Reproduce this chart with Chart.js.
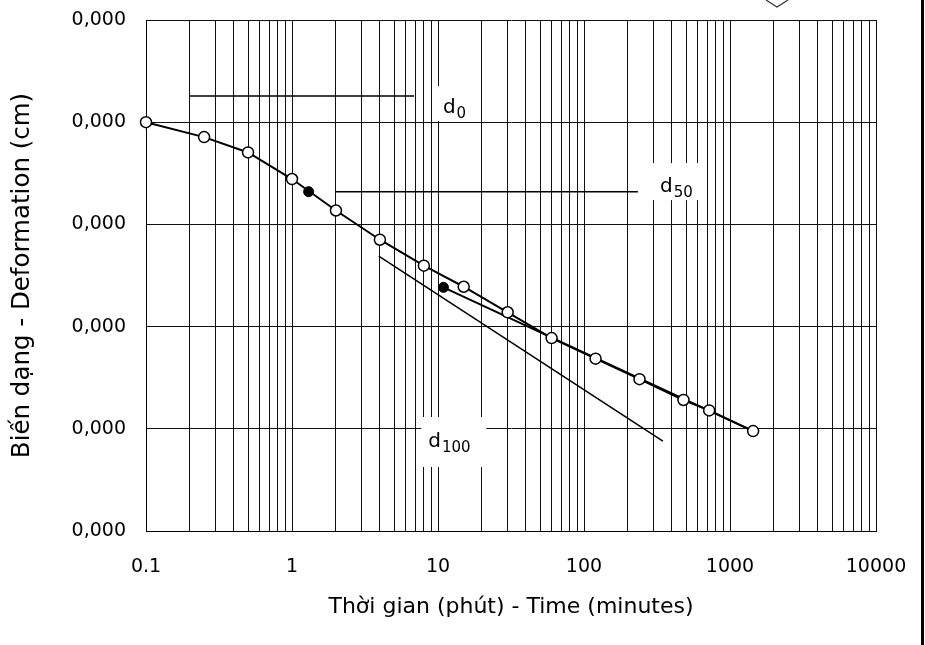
<!DOCTYPE html>
<html>
<head>
<meta charset="utf-8">
<script src="https://cdn.jsdelivr.net/npm/chart.js@4.4.1/dist/chart.umd.min.js"></script>
<style>
  html, body { margin: 0; padding: 0; background: #fff; }
  #wrap { width: 925px; height: 645px; }
</style>
</head>
<body>
<div id="wrap"><canvas id="chart" width="925" height="645"></canvas></div>
<script>
// readings: time (minutes) and deformation (cm)
const times = [0.1, 0.25, 0.5, 1, 2, 4, 8, 15, 30, 60, 120, 240, 480, 720, 1440];
const deformation = [0.0000500, 0.0000573, 0.0000648, 0.0000778, 0.0000932, 0.0001075, 0.0001202,
  0.0001305, 0.0001430, 0.0001556, 0.0001657, 0.0001757, 0.0001859, 0.0001910, 0.0002011];

// t50 / t100 points (filled)
const markTimes = [1.3, 10.9];
const markDeformation = [0.0000840, 0.0001308];

// construction lines, [start, end]
const d0Times = [0.2, 6.85];
const d0Values = [0.0000372, 0.0000372];
const d50Times = [2, 234];
const d50Values = [0.0000840, 0.0000840];
const tangentTimes = [3.93, 347];
const tangentValues = [0.0001155, 0.0002060];
const secondaryTimes = [10.9, 1440];
const secondaryValues = [0.0001308, 0.0002011];

// axis ticks
const xTicks = [0.1, 1, 10, 100, 1000, 10000];
const yTicks = [0, 0.00005, 0.0001, 0.00015, 0.0002, 0.00025];

// d labels (anchor in data units)
const labels = [
  { main: 'd', sub: '0', t: 10.8, v: 0.0000455 },
  { main: 'd', sub: '50', t: 332, v: 0.0000842 },
  { main: 'd', sub: '100', t: 8.58, v: 0.0002089 }
];
const labelBoxes = [[-8, -27, 34, 8], [-20, -29, 43, 8], [-7, -30, 58, 20]];

const FONT = '"DejaVu Sans", Verdana, sans-serif';
const GRID = '#111';

const pts = (xs, ys) => xs.map((x, i) => ({ x: x, y: ys[i] }));

function segment(xs, ys, width) {
  return {
    data: pts(xs, ys),
    borderColor: '#000',
    borderWidth: width,
    pointRadius: 0,
    fill: false
  };
}

const annotate = {
  id: 'annotate',
  beforeDatasetsDraw(chart) {
    const { ctx, scales: { x, y } } = chart;
    ctx.save();
    labels.forEach((l, i) => {
      const px = x.getPixelForValue(l.t);
      const py = y.getPixelForValue(l.v);
      const b = labelBoxes[i];
      ctx.fillStyle = '#fff';
      ctx.fillRect(px + b[0], py + b[1], b[2] - b[0], b[3] - b[1]);
      ctx.fillStyle = '#000';
      ctx.textBaseline = 'alphabetic';
      ctx.textAlign = 'left';
      ctx.font = '20px ' + FONT;
      ctx.fillText(l.main, px, py);
      const w = ctx.measureText(l.main).width;
      ctx.font = '15px ' + FONT;
      ctx.fillText(l.sub, px + w + 1, py + 5);
    });
    ctx.restore();
  },
  afterDraw(chart) {
    // edge of the scanned sheet
    const ctx = chart.ctx;
    ctx.save();
    ctx.fillStyle = '#000';
    ctx.fillRect(921, 0, 3, chart.height);
    ctx.strokeStyle = '#333';
    ctx.lineWidth = 1.2;
    ctx.beginPath();
    ctx.moveTo(766, 0);
    ctx.lineTo(777, 7);
    ctx.lineTo(788, 0);
    ctx.stroke();
    ctx.restore();
  }
};

new Chart(document.getElementById('chart'), {
  type: 'line',
  data: {
    datasets: [
      {
        data: pts(markTimes, markDeformation),
        showLine: false,
        pointRadius: 5,
        pointBackgroundColor: '#000',
        pointBorderColor: '#000',
        pointBorderWidth: 1
      },
      {
        data: pts(times, deformation),
        borderColor: '#000',
        borderWidth: 2,
        pointRadius: 5.5,
        pointBackgroundColor: '#fff',
        pointBorderColor: '#000',
        pointBorderWidth: 1.5,
        tension: 0,
        clip: false
      },
      segment(secondaryTimes, secondaryValues, 2),
      segment(tangentTimes, tangentValues, 1.5),
      segment(d0Times, d0Values, 1.5),
      segment(d50Times, d50Values, 1.5)
    ]
  },
  plugins: [annotate],
  options: {
    responsive: false,
    animation: false,
    layout: { padding: { top: 20, right: 49, bottom: 0, left: 0 } },
    plugins: { legend: { display: false }, tooltip: { enabled: false } },
    scales: {
      x: {
        type: 'logarithmic',
        min: 0.1,
        max: 10000,
        afterBuildTicks: s => {
          const t = [];
          for (let e = -1; e <= 3; e++) {
            for (let k = 1; k <= 9; k++) t.push({ value: Number((k * Math.pow(10, e)).toPrecision(6)) });
          }
          t.push({ value: 10000 });
          s.ticks = t;
        },
        afterFit: s => {
          s.height = 114;
          s.paddingLeft = 0;
          s.paddingRight = 0;
        },
        ticks: {
          autoSkip: false,
          maxRotation: 0,
          padding: 25,
          color: '#000',
          font: { family: FONT, size: 19 },
          callback: v => xTicks.includes(v) ? String(v) : ''
        },
        grid: { color: GRID, lineWidth: 1, drawTicks: false },
        border: { color: '#000', width: 1 },
        title: {
          display: true,
          text: 'Thời gian (phút) - Time (minutes)',
          color: '#000',
          font: { family: FONT, size: 22 },
          padding: { top: 0, bottom: 25 }
        }
      },
      y: {
        reverse: true,
        min: 0,
        max: 0.00025,
        afterBuildTicks: s => { s.ticks = yTicks.map(v => ({ value: v })); },
        afterFit: s => {
          s.width = 146;
          s.paddingTop = 0;
          s.paddingBottom = 0;
        },
        ticks: {
          padding: 20,
          color: '#000',
          font: { family: FONT, size: 19 },
          callback: v => v.toFixed(3).replace('.', ',')
        },
        grid: { color: GRID, lineWidth: 1, drawTicks: false },
        border: { color: '#000', width: 1 },
        title: {
          display: true,
          text: 'Biến dạng - Deformation (cm)',
          color: '#000',
          font: { family: FONT, size: 24.5 },
          padding: { top: 8, bottom: 0 }
        }
      }
    }
  }
});
</script>
</body>
</html>
